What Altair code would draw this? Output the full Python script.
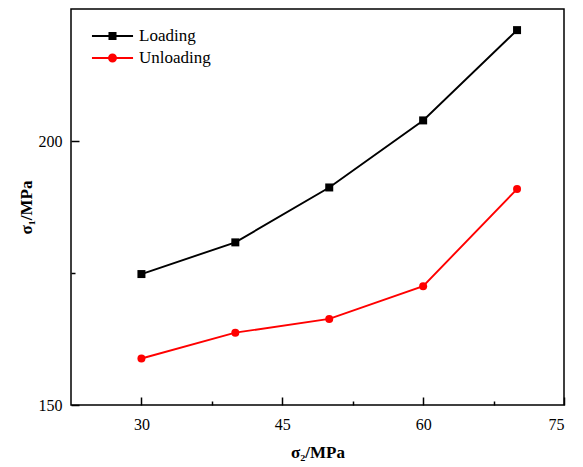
import altair as alt
import pandas as pd

# Confining pressure sigma2 (MPa) and peak stress sigma1 (MPa)
sigma2 = [30, 40, 50, 60, 70]
loading = [174.8, 180.8, 191.2, 203.9, 221.0]
unloading = [158.8, 163.7, 166.3, 172.5, 190.9]

series_names = ["Loading", "Unloading"]
legend_labels = ["\u00a0Loading", "Unloading"]
series_colors = ["#000000", "#ff0000"]

x_major = [30, 45, 60, 75]
x_minor = [37.5, 52.5, 67.5]
y_major = [150, 200]
y_minor = [175]

df = pd.DataFrame({
    "sigma2": sigma2 + sigma2,
    "sigma1": loading + unloading,
    "series": [series_names[0]] * len(sigma2) + [series_names[1]] * len(sigma2),
})

FONT = "Liberation Serif"
LINE_W = 1.9
x_scale = alt.Scale(domain=[22.5, 75], nice=False, zero=False)
y_scale = alt.Scale(domain=[150, 225], nice=False, zero=False)
color_scale = alt.Scale(domain=series_names, range=series_colors)

# legend symbols: a line segment with the marker in the middle
# (symbol size 676 -> path unit = 13 px)
square_path = "M-1.58,0H1.58M-0.236,-0.236H0.236V0.236H-0.236Z"
circle_path = "M-1.58,0H1.58M0.27,0A0.27,0.27 0 1 0 -0.27,0A0.27,0.27 0 1 0 0.27,0Z"

# inward ticks: the axis is pulled into the plot by its own tick length
major_x = alt.Axis(values=x_major, orient="bottom", offset=-8, tickSize=8,
                   tickWidth=1.5, domain=False, grid=False, labelPadding=11,
                   title="σ₂/MPa", titlePadding=12)
major_y = alt.Axis(values=y_major, orient="left", offset=-8, tickSize=8,
                   tickWidth=1.5, domain=False, grid=False, labelPadding=9,
                   title="σ₁/MPa", titlePadding=3)
minor_x = alt.Axis(values=x_minor, orient="bottom", offset=-4, tickSize=4,
                   tickWidth=1.5, domain=False, grid=False, labels=False, title=None)
minor_y = alt.Axis(values=y_minor, orient="left", offset=-4, tickSize=4,
                   tickWidth=1.5, domain=False, grid=False, labels=False, title=None)

legend_def = alt.Legend(
    orient="none", legendX=27.5, legendY=13, title=None, padding=0,
    labelFont=FONT, labelFontSize=17, labelOffset=12.5, rowPadding=0,
    symbolSize=676, symbolStrokeWidth=LINE_W, symbolOpacity=1,
)

base = alt.Chart(df)

# invisible layer that carries the main axes and the legend
key = base.transform_calculate(
    label="datum.series == 'Loading' ? '\u00a0Loading' : datum.series"
).mark_point(filled=True, opacity=0).encode(
    x=alt.X("sigma2:Q", scale=x_scale, axis=major_x),
    y=alt.Y("sigma1:Q", scale=y_scale, axis=major_y),
    fill=alt.Fill("label:N", scale=alt.Scale(domain=legend_labels, range=series_colors), legend=legend_def),
    stroke=alt.Stroke("label:N", scale=alt.Scale(domain=legend_labels, range=series_colors), legend=legend_def),
    shape=alt.Shape("label:N", scale=alt.Scale(domain=legend_labels, range=[square_path, circle_path]), legend=legend_def),
)

lines = base.mark_line(strokeWidth=LINE_W).encode(
    x=alt.X("sigma2:Q", scale=x_scale, axis=minor_x),
    y=alt.Y("sigma1:Q", scale=y_scale, axis=minor_y),
    color=alt.Color("series:N", scale=color_scale, legend=None),
)

squares = base.transform_filter(alt.datum.series == "Loading").mark_point(
    shape="square", filled=True, size=64, opacity=1
).encode(
    x=alt.X("sigma2:Q", scale=x_scale, axis=None),
    y=alt.Y("sigma1:Q", scale=y_scale, axis=None),
    color=alt.Color("series:N", scale=color_scale, legend=None),
)

circles = base.transform_filter(alt.datum.series == "Unloading").mark_point(
    shape="circle", filled=True, size=64, opacity=1
).encode(
    x=alt.X("sigma2:Q", scale=x_scale, axis=None),
    y=alt.Y("sigma1:Q", scale=y_scale, axis=None),
    color=alt.Color("series:N", scale=color_scale, legend=None),
)

chart = alt.layer(key, lines, squares, circles).resolve_axis(
    x="independent", y="independent"
).properties(
    width=493, height=396, autosize="none",
    padding={"left": 71, "top": 9, "right": 19, "bottom": 62},
).configure_view(
    stroke="black", strokeWidth=1.5
).configure_axis(
    labelFont=FONT, labelFontSize=16, labelColor="black",
    titleFont=FONT, titleFontSize=17, titleFontWeight="bold", titleColor="black",
    tickColor="black",
)

chart.save("out.html", embed_options={"renderer": "svg", "actions": False})
